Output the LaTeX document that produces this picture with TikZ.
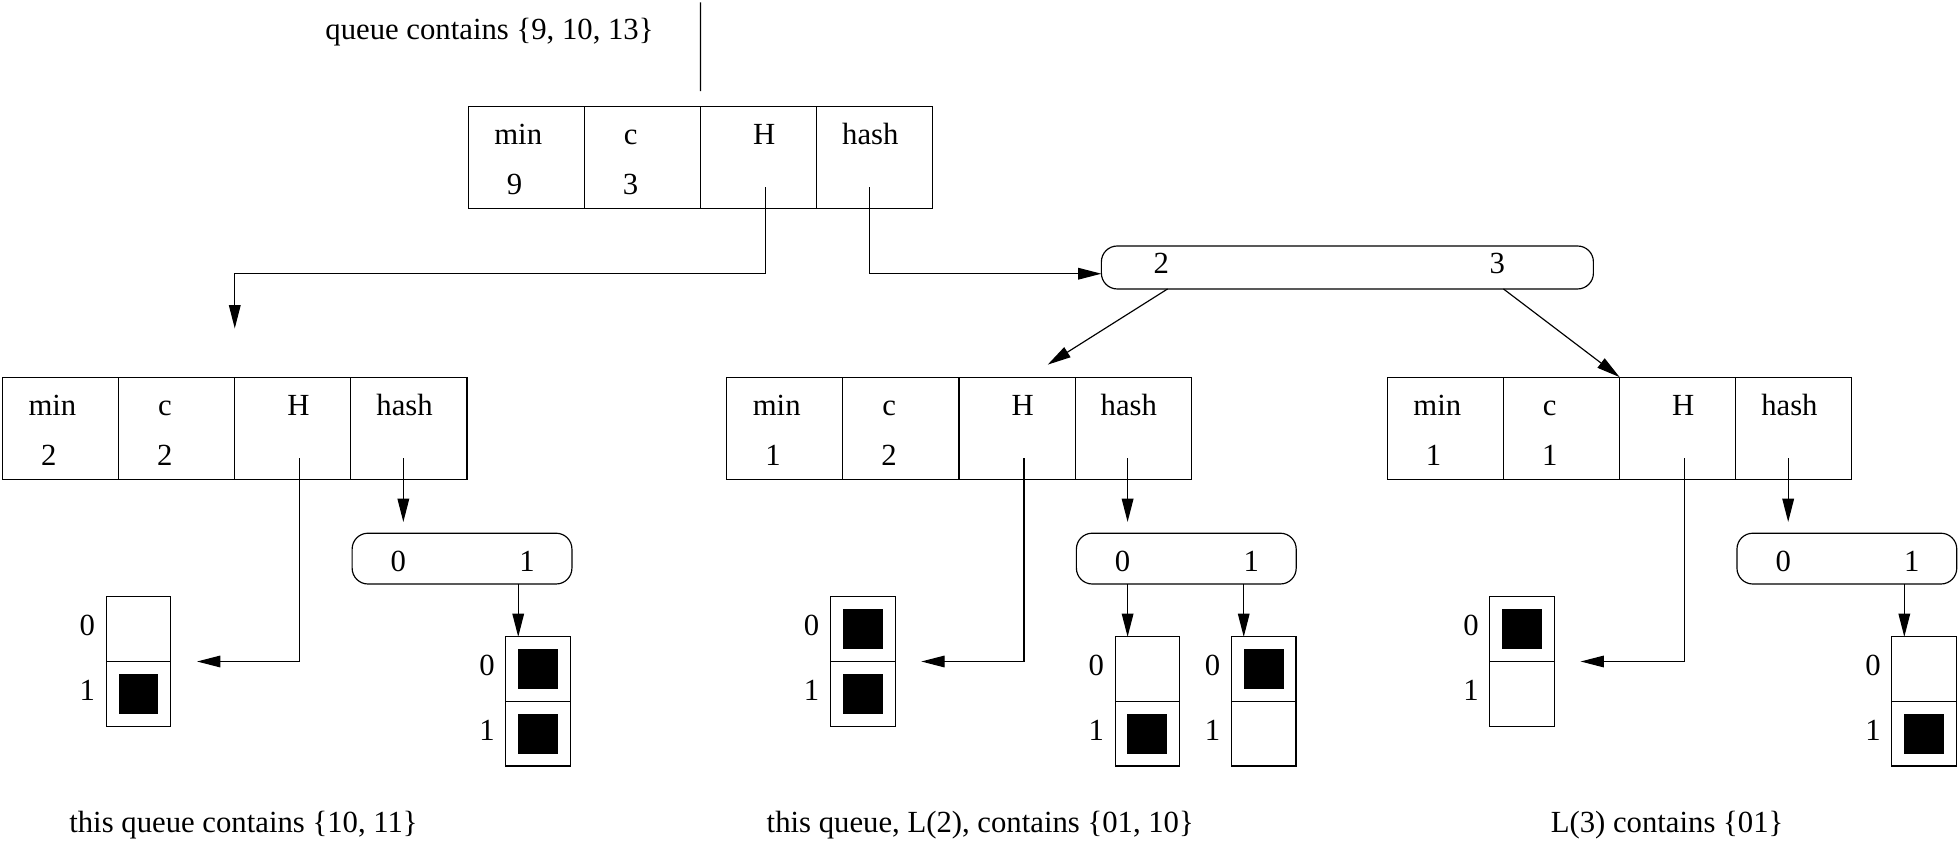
\documentclass[tikz,border=0pt]{standalone}
\usepackage{fontspec}
\setmainfont{Liberation Serif}
\usetikzlibrary{arrows.meta,positioning,calc}

\tikzset{
	cell/.style={draw, rectangle, minimum width=13.95mm, minimum height=12.27mm, inner sep=0pt, outer sep=0pt},
	bit/.style={draw, rectangle, minimum width=7.77mm, minimum height=7.76mm, inner sep=0pt, outer sep=0pt},
	setbit/.style={fill, rectangle, minimum size=4.8mm, inner sep=0pt},
	tab/.style={draw, rectangle, rounded corners=1.9mm, inner sep=0pt, outer sep=0pt},
	lbl/.style={anchor=base, inner sep=0pt, font=\fontsize{10.5}{12}\selectfont},
	qcaption/.style={anchor=base, inner sep=0pt, font=\fontsize{10.5}{12}\selectfont},
	ptr/.style={-{Triangle[length=2.8mm,width=1.4mm]}}
}

\begin{document}
\begin{tikzpicture}[x=0.15mm, y=-0.15mm]
	
	\useasboundingbox (0,0) rectangle (1568,674);
	
	\foreach \r/\x/\y/\mv/\cv in {top/375/85/9/3, left/2/302/2/2, mid/582/302/1/2, right/1111/302/1/1} {
		\node[cell, anchor=north west] (\r-min) at (\x,\y) {};
		\node[cell, right=0pt of \r-min] (\r-c) {};
		\node[cell, right=0pt of \r-c] (\r-H) {};
		\node[cell, right=0pt of \r-H] (\r-hash) {};
		\node[lbl] (\r-lmin) at (\x+40,\y+31) {min};
		\node[lbl] (\r-lc) at (\x+130,\y+31) {c};
		\node[lbl] (\r-lH) at (\x+237,\y+31) {H};
		\node[lbl] (\r-lhash) at (\x+322,\y+31) {hash};
		\node[lbl] (\r-vmin) at (\x+37,\y+71) {\mv};
		\node[lbl] (\r-vc) at (\x+130,\y+71) {\cv};
		\coordinate (\r-Hp) at (\x+238,\y+65);
		\coordinate (\r-hashp) at (\x+321,\y+65);
	}
	
	\node[lbl] (title) at (392,32) {queue contains \{9, 10, 13\}};
	\coordinate (root) at (561,2);
	\draw[shorten >=1.8mm] (root) -- (top-c.north east);
	
	\node[tab, minimum width=59.1mm, minimum height=5.16mm, anchor=north west] (top-tab) at (882,197) {};
	\node[lbl] (top-tab-2) at (930,219) {2};
	\node[lbl] (top-tab-3) at (1199,219) {3};
	
	\foreach \r/\x in {left/282, mid/862, right/1391} {
		\node[tab, minimum width=26.4mm, minimum height=6.1mm, anchor=north west] (\r-tab) at (\x,427) {};
		\node[lbl] (\r-tab-0) at (\x+37,458) {0};
		\node[lbl] (\r-tab-1) at (\x+140,458) {1};
	}
	
	\foreach \b/\x/\y/\sa/\sb in {left-h/85/478/0/1, left-t1/405/510/1/1, mid-h/665/478/1/1, mid-t0/893/510/0/1, mid-t1/986/510/1/0, right-h/1193/478/1/0, right-t1/1515/510/0/1} {
		\node[bit, anchor=north west] (\b-0) at (\x,\y) {};
		\node[bit, below=0pt of \b-0] (\b-1) {};
		\node[lbl] (\b-l0) at (\x-15,\y+31) {0};
		\node[lbl] (\b-l1) at (\x-15,\y+83) {1};
		\ifnum\sa=1 \node[setbit] (\b-s0) at (\b-0) {}; \fi
		\ifnum\sb=1 \node[setbit] (\b-s1) at (\b-1) {}; \fi
	}
	
	\draw[ptr] (top-Hp) -- ++(0,69) -| ($(left-H.north west)+(0,-39)$);
	\draw[ptr] (top-hashp) |- ([yshift=-0.75mm]top-tab.west);
	\draw[ptr] ($(top-tab-2 |- top-tab.south)+(5,0)$) -- ($(mid-H.north east)+(-22,-10)$);
	\draw[ptr] ($(top-tab-3 |- top-tab.south)+(5,0)$) -- (right-H.north west);
	
	\foreach \r in {left, mid, right} {
		\draw[ptr] (\r-Hp) |- ($(\r-h-0.south east)+(21,0)$);
		\draw[ptr, shorten >=1.35mm] (\r-hashp) -- (\r-hashp |- \r-tab.north);
	}
	
	\draw[ptr] ($(left-tab.south -| left-t1-0.north west)+(10,0)$) -- ($(left-t1-0.north west)+(10,0)$);
	\draw[ptr] ($(mid-tab.south -| mid-t0-0.north west)+(10,0)$) -- ($(mid-t0-0.north west)+(10,0)$);
	\draw[ptr] ($(mid-tab.south -| mid-t1-0.north west)+(10,0)$) -- ($(mid-t1-0.north west)+(10,0)$);
	\draw[ptr] ($(right-tab.south -| right-t1-0.north west)+(10,0)$) -- ($(right-t1-0.north west)+(10,0)$);
	
	\node[qcaption] (cap-left) at (195,667) {this queue contains \{10, 11\}};
	\node[qcaption] (cap-mid) at (785,667) {this queue, L(2), contains \{01, 10\}};
	\node[qcaption] (cap-right) at (1335,667) {L(3) contains \{01\}};
\end{tikzpicture}
\end{document}
